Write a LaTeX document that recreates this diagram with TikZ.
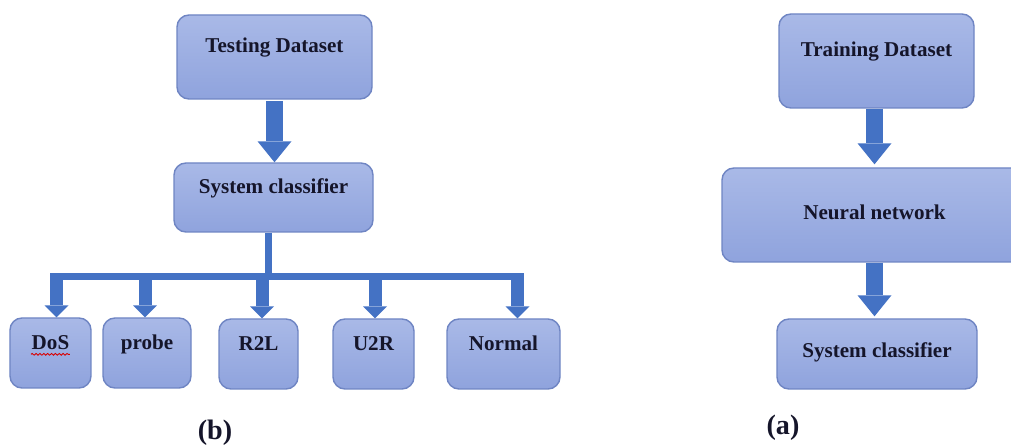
\documentclass[tikz,border=0pt]{standalone}
\usepackage{fontspec}
\setmainfont{Liberation Serif}
\usetikzlibrary{arrows.meta,decorations.pathmorphing}

\definecolor{boxtop}{HTML}{A9B9E7}
\definecolor{boxbot}{HTML}{8FA3DD}
\definecolor{boxedge}{HTML}{6F85C3}
\definecolor{flow}{HTML}{4472C4}
\definecolor{ink}{HTML}{15152A}

\begin{document}
\begin{tikzpicture}[
  stage/.style={draw=boxedge, line width=0.8pt, rounded corners=0.24cm,
    top color=boxtop, bottom color=boxbot, text=ink,
    font=\fontsize{12}{14}\selectfont\bfseries,
    inner sep=1pt, text height=8.4pt, text depth=#1},
  stage/.default=13pt,
  bigflow/.style={draw=flow, line width=0.35cm,
    -{Triangle[width=0.68cm,length=0.42cm,line width=0pt]}},
  smallflow/.style={draw=flow, line width=0.26cm,
    -{Triangle[width=0.48cm,length=0.24cm,line width=0pt]}},
  busline/.style={draw=flow, line width=0.14cm},
  caption/.style={text=ink, font=\fontsize{16}{19}\selectfont\bfseries}]
  \useasboundingbox (0,0) rectangle (20.22,-8.96);
  \clip (0,0) rectangle (20.22,-8.96);

  %testing side
  \node[stage, minimum width=3.9cm, minimum height=1.68cm] (test) at (5.49,-1.14) {Testing Dataset};
  \node[stage, minimum width=3.98cm, minimum height=1.38cm] (sysb) at (5.47,-3.95) {System classifier};
  \draw[bigflow] ([yshift=-1pt]test.south) -- (test.south |- sysb.north);

  %attack classes
  \node[stage=12pt, minimum width=1.62cm, minimum height=1.4cm] (dos) at (1.01,-7.06) {DoS};
  \node[stage=12pt, minimum width=1.76cm, minimum height=1.4cm] (probe) at (2.94,-7.06) {probe};
  \node[stage=12pt, minimum width=1.58cm, minimum height=1.4cm] (rtwol) at (5.17,-7.08) {R2L};
  \node[stage=12pt, minimum width=1.62cm, minimum height=1.4cm] (utwor) at (7.47,-7.08) {U2R};
  \node[stage=12pt, minimum width=2.26cm, minimum height=1.4cm] (normal) at (10.07,-7.08) {Normal};
  % spell-check mark under DoS
  \draw[red!85!black, line width=0.5pt, decorate,
    decoration={snake, amplitude=0.5pt, segment length=2.2pt}]
    ([xshift=-0.39cm,yshift=-0.09cm]dos.base) -- ([xshift=0.39cm,yshift=-0.09cm]dos.base);

  %bus from the classifier
  \coordinate (hub) at (5.37,-5.53);
  \coordinate (busl) at (1.0,-5.53);
  \coordinate (busr) at (10.48,-5.53);
  \draw[busline] (hub |- sysb.south) -- (hub);
  \draw[busline] (busl) -- (busr);
  \coordinate (j1) at (1.13,-5.53);
  \coordinate (j2) at (2.90,-5.53);
  \coordinate (j3) at (5.24,-5.53);
  \coordinate (j4) at (7.50,-5.53);
  \coordinate (j5) at (10.35,-5.53);
  \draw[smallflow] (j1) -- (j1 |- dos.north);
  \draw[smallflow] (j2) -- (j2 |- probe.north);
  \draw[smallflow] (j3) -- (j3 |- rtwol.north);
  \draw[smallflow] (j4) -- (j4 |- utwor.north);
  \draw[smallflow] (j5) -- (j5 |- normal.north);

  %training side
  \node[stage, minimum width=3.9cm, minimum height=1.88cm] (train) at (17.53,-1.22) {Training Dataset};
  \node[stage=3pt, minimum width=6.1cm, minimum height=1.88cm] (neural) at (17.49,-4.30) {Neural network};
  \node[stage=4pt, minimum width=4.0cm, minimum height=1.4cm] (sysa) at (17.54,-7.08) {System classifier};
  \draw[bigflow] (neural.north |- train.south) -- ([yshift=0.06cm]neural.north);
  \draw[bigflow] (neural.south) -- ([yshift=0.04cm]neural.south |- sysa.north);

  %panel labels
  \node[caption] (capb) at (4.30,-8.66) {(b)};
  \node[caption] (capa) at (15.66,-8.56) {(a)};
\end{tikzpicture}
\end{document}
